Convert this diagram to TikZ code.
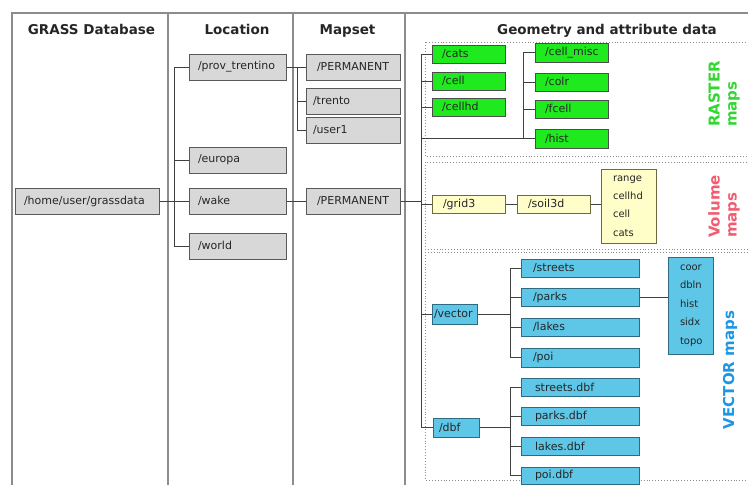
\documentclass[tikz,border=0pt]{standalone}
\usepackage{fontspec}
\setmainfont{DejaVu Sans}
\definecolor{rastergreen}{HTML}{33D633}
\definecolor{volred}{HTML}{F25C70}
\definecolor{vecblue}{HTML}{1E96E6}
\definecolor{rfill}{HTML}{1EEA1E}
\definecolor{bfill}{HTML}{5EC6E6}
\definecolor{bdraw}{HTML}{2E6A82}
\definecolor{yfill}{HTML}{FFFDC8}
\definecolor{ydraw}{HTML}{6E6A40}
\definecolor{gfill}{HTML}{D8D8D8}
\begin{document}
\begin{tikzpicture}[x=1pt,y=-1pt,
  frame/.style={draw=black!45, line width=1.3pt},
  dotbox/.style={draw=black!45, dotted, line width=0.9pt},
  conn/.style={draw=black!75, line width=0.9pt},
  boxbase/.style={rectangle, line width=1pt, inner ysep=0pt, align=left, text=black!85, font=\fontsize{11}{12}\selectfont},
  gbox/.style={boxbase, draw=black!65, fill=gfill},
  rbox/.style={boxbase, draw=black!70, fill=rfill},
  vbox/.style={boxbase, draw=ydraw, fill=yfill},
  bbox/.style={boxbase, draw=bdraw, fill=bfill},
  listbox/.style={font=\fontsize{10}{18.4}\selectfont},
  head/.style={font=\fontsize{13.5}{15}\selectfont\bfseries, text=black!85, anchor=base, inner sep=0pt},
  lab/.style={font=\fontsize{15}{17}\selectfont\bfseries, rotate=90, align=left, inner sep=0pt}
]
\newcommand\bxnode[8]{%
  \pgfmathsetlengthmacro\bxw{(#5-#3)*1pt}%
  \pgfmathsetlengthmacro\bxh{(#6-#4)*1pt}%
  \pgfmathsetlengthmacro\bxt{(#5-#3)*1pt-2*#8*1pt}%
  \node[#1, minimum width=\bxw, minimum height=\bxh, text width=\bxt, inner xsep=#8pt] (#2) at ({(#3+#5)/2},{(#4+#6)/2}) {#7};}

\useasboundingbox (0,0) rectangle (748,485);
\clip (0,0) rectangle (748,485);

% frame
\draw[frame] (12,485) -- (12,13) -- (760,13);
\draw[frame] (168,13) -- (168,485);
\draw[frame] (293,13) -- (293,485);
\draw[frame] (405,13) -- (405,485);

% headers
\node[head] (hdb) at (91.5,34.5) {GRASS Database};
\node[head] (hloc) at (237,34.5) {Location};
\node[head] (hms) at (347.5,34.5) {Mapset};
\node[head] (hgeo) at (607,34.5) {Geometry and attribute data};

% dotted groups
\draw[dotbox] (425,42) rectangle (760,156);
\draw[dotbox] (425,162) rectangle (760,249);
\draw[dotbox] (425,252) rectangle (760,480);

% database / location / mapset
\bxnode{gbox}{gdata}{15}{188}{159}{214}{/home/user/grassdata}{9}
\bxnode{gbox}{prov}{189}{54}{286}{80}{/prov\_trentino}{9}
\bxnode{gbox}{europa}{189}{147}{286}{173}{/europa}{9}
\bxnode{gbox}{wake}{189}{188}{286}{214}{/wake}{9}
\bxnode{gbox}{world}{189}{233}{286}{259}{/world}{9}
\bxnode{gbox}{perm1}{306}{54}{400}{80}{/PERMANENT}{11}
\bxnode{gbox}{trento}{306}{88}{400}{114}{/trento}{7}
\bxnode{gbox}{user1}{306}{117}{400}{143}{/user1}{7}
\bxnode{gbox}{perm2}{306}{188}{400}{214}{/PERMANENT}{11}

% raster
\bxnode{rbox}{cats}{432}{45}{505}{63}{/cats}{10}
\bxnode{rbox}{cell}{432}{72}{505}{90}{/cell}{10}
\bxnode{rbox}{cellhd}{432}{98}{505}{116}{/cellhd}{10}
\bxnode{rbox}{cellmisc}{535}{43}{608}{62}{/cell\_misc}{10}
\bxnode{rbox}{colr}{535}{73}{608}{91}{/colr}{10}
\bxnode{rbox}{fcell}{535}{100}{608}{118}{/fcell}{10}
\bxnode{rbox}{hist}{535}{129}{608}{148}{/hist}{10}

% volume
\bxnode{vbox}{grid3}{432}{195}{505}{213}{/grid3}{11}
\bxnode{vbox}{soil3d}{517}{195}{590}{213}{/soil3d}{11}
\bxnode{vbox,listbox}{vlist}{601}{169}{656}{243}{range\\cellhd\\cell\\cats}{12}

% vector
\bxnode{bbox}{vector}{432}{304}{477}{324}{/vector}{2}
\bxnode{bbox}{dbf}{433}{418}{479}{437}{/dbf}{6}
\bxnode{bbox}{streets}{521}{259}{639}{277}{/streets}{12}
\bxnode{bbox}{parks}{521}{288}{639}{306}{/parks}{12}
\bxnode{bbox}{lakes}{521}{318}{639}{336}{/lakes}{12}
\bxnode{bbox}{poi}{521}{348}{639}{367}{/poi}{12}
\bxnode{bbox}{sdbf}{521}{378}{639}{396}{streets.dbf}{14}
\bxnode{bbox}{pdbf}{521}{407}{639}{425}{parks.dbf}{14}
\bxnode{bbox}{ldbf}{521}{437}{639}{455}{lakes.dbf}{14}
\bxnode{bbox}{podbf}{521}{467}{639}{484}{poi.dbf}{14}
\bxnode{bbox,listbox}{vlist2}{668}{257}{713}{354}{coor\\dbln\\hist\\sidx\\topo}{12}

% side labels
\node[lab, text=rastergreen] (lraster) at (724,94) {RASTER\\maps};
\node[lab, text=volred] (lvol) at (724,206.5) {Volume\\maps};
\node[lab, text=vecblue] (lvec) at (730,370) {VECTOR maps};

% trunk coordinates
\coordinate (tl) at (174,0);
\coordinate (tm) at (297,0);
\coordinate (tg) at (421,0);
\coordinate (tr) at (523,0);
\coordinate (tv) at (510,0);

% database -> location
\draw[conn] (gdata.east) -- (wake.west);
\draw[conn] (prov.west -| tl) -- (world.west -| tl);
\foreach \n in {prov,europa,world} \draw[conn] (\n.west -| tl) -- (\n.west);

% location -> mapset
\draw[conn] (prov.east) -- (perm1.west);
\draw[conn] (perm1.west -| tm) -- (user1.west -| tm);
\foreach \n in {trento,user1} \draw[conn] (\n.west -| tm) -- (\n.west);
\draw[conn] (wake.east) -- (perm2.west);

% mapset -> data trunk
\draw[conn] (perm2.east) -- (perm2.east -| tg);
\draw[conn] (cats.west -| tg) -- (dbf.west -| tg);
\foreach \n in {cats,cell,cellhd,hist,grid3,vector,dbf} \draw[conn] (\n.west -| tg) -- (\n.west);

% raster sub-trunk
\draw[conn] (cellmisc.west -| tr) -- (hist.west -| tr);
\foreach \n in {cellmisc,colr,fcell} \draw[conn] (\n.west -| tr) -- (\n.west);

% volume chain
\draw[conn] (grid3.east) -- (soil3d.west);
\draw[conn] (soil3d.east) -- (soil3d.east -| vlist.west);

% vector sub-trunks
\draw[conn] (vector.east) -- (vector.east -| tv);
\draw[conn] (streets.west -| tv) -- (poi.west -| tv);
\foreach \n in {streets,parks,lakes,poi} \draw[conn] (\n.west -| tv) -- (\n.west);
\draw[conn] (parks.east) -- (parks.east -| vlist2.west);
\draw[conn] (dbf.east) -- (dbf.east -| tv);
\draw[conn] (sdbf.west -| tv) -- (podbf.west -| tv);
\foreach \n in {sdbf,pdbf,ldbf,podbf} \draw[conn] (\n.west -| tv) -- (\n.west);
\end{tikzpicture}
\end{document}
